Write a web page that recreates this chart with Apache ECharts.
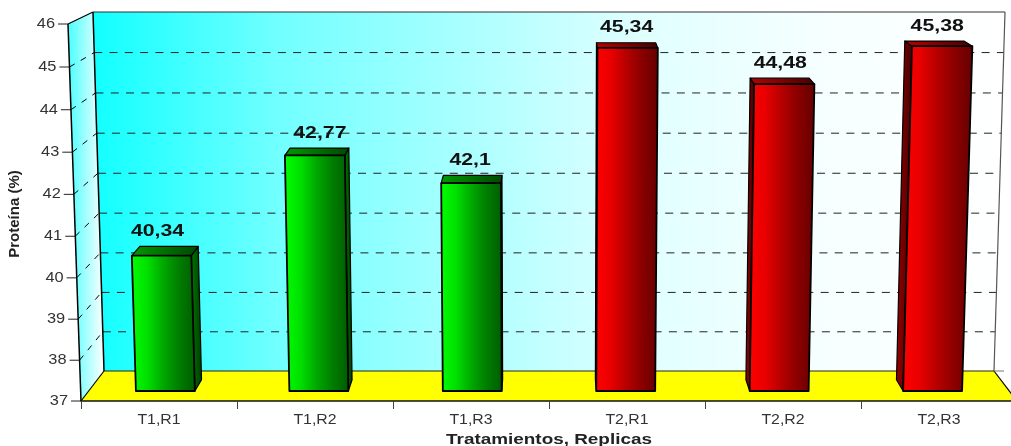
<!DOCTYPE html>
<html>
<head>
<meta charset="utf-8">
<style>html,body{margin:0;padding:0;background:#fff}#chart{width:1011px;height:446px}</style>
<script src="https://cdn.jsdelivr.net/npm/echarts@6/dist/echarts.min.js"></script>
</head>
<body>
<div id="chart"></div>
<script>
// Protein content per treatment and replicate
const categories = ['T1,R1', 'T1,R2', 'T1,R3', 'T2,R1', 'T2,R2', 'T2,R3'];
const protein = [40.34, 42.77, 42.1, 45.34, 44.48, 45.38];
const treatment = [0, 0, 0, 1, 1, 1];
const yTicks = [37, 38, 39, 40, 41, 42, 43, 44, 45, 46];
const xTitle = 'Tratamientos, Replicas';
const yTitle = 'Proteína (%)';

// Box perspective: how the floor and the walls shrink from the front plane (d=0) to the back wall (d=1)
const Y_MIN = 37, Y_MAX = 46;
const BOTTOM_RISE = 30, TOP_RISE = 12;       // upward shift of the back plane at floor / ceiling level
const BOTTOM_INSET = 23, TOP_INSET = 12;     // sideways inset of the back plane
const FRONT_FLARE = 13;                      // front plane widening towards the ceiling
const BEND_FRONT = 0.14, BEND_BACK = 0.085;  // vertical foreshortening
const BAR_FRONT = 1 / 3, BAR_BACK = 0.71, BAR_HALF = 0.192;
const LABEL_LIFT = 15;
const labelNudge = [-4, 5, -1, -1, -4, -5];

const palettes = [
  { face: ['#00ff00', '#00e000', '#00a800', '#007c00', '#005c00'], top: ['#009a00', '#004800'], side: ['#007800', '#003c00'] },
  { face: ['#ff0000', '#e80000', '#b40000', '#880000', '#640000'], top: ['#b80000', '#480000'], side: ['#980000', '#480000'] }
];

function stops(list) {
  return list.map((c, i) => ({ offset: i / (list.length - 1), color: c }));
}
function hGrad(list) {
  return { type: 'linear', x: 0, y: 0, x2: 1, y2: 0, colorStops: stops(list) };
}

// Maps category position u (0..n), value v and depth d through the chart's own axes
function projector(api) {
  const catW = api.size([1, 0])[0];
  const x0 = api.coord([0, Y_MIN])[0] - catW / 2;
  const span = catW * categories.length;
  return function (u, v, d) {
    const t = (v - Y_MIN) / (Y_MAX - Y_MIN);
    const delta = v - Y_MIN;
    const bend = (BEND_FRONT + (BEND_BACK - BEND_FRONT) * d) * delta * (Y_MAX - Y_MIN - delta);
    const rise = BOTTOM_RISE + (TOP_RISE - BOTTOM_RISE) * t;
    const inset = BOTTOM_INSET + (TOP_INSET - BOTTOM_INSET) * t;
    const flare = FRONT_FLARE * t;
    const left = x0 - flare + (flare + inset) * d;
    const right = x0 + span + flare - (flare + inset) * d;
    return [left + (right - left) * u / categories.length,
            api.coord([0, v])[1] + bend - rise * d];
  };
}

function stretched(text, x, y, size, scale, weight, color, rotation, align) {
  return {
    type: 'text', x: x, y: y, scaleX: scale, rotation: rotation || 0,
    style: {
      text: text, x: 0, y: 0, align: align || 'center', verticalAlign: 'middle',
      fontFamily: '"Liberation Sans", Arial, sans-serif',
      fontSize: size, fontWeight: weight, fill: color
    }
  };
}
function poly(points, fill, stroke, w) {
  return { type: 'polygon', shape: { points: points }, style: { fill: fill, stroke: stroke || null, lineWidth: w || 0, lineJoin: 'round' } };
}
function seg(a, b, stroke, w, dash) {
  return { type: 'line', shape: { x1: a[0], y1: a[1], x2: b[0], y2: b[1] }, style: { stroke: stroke, lineWidth: w, lineDash: dash || null } };
}

// Walls, floor, gridlines, value axis and text of the box
function renderFrame(params, api) {
  const p = projector(api);
  const n = categories.length;
  const kids = [];
  kids.push(poly([p(0, Y_MAX, 1), p(n, Y_MAX, 1), p(n, Y_MIN, 1), p(0, Y_MIN, 1)],
    hGrad(['#12ffff', '#70ffff', '#a8ffff', '#e0ffff', '#f6ffff', '#ffffff'])));
  kids.push(poly([p(0, Y_MAX, 0), p(0, Y_MAX, 1), p(0, Y_MIN, 1), p(0, Y_MIN, 0)],
    hGrad(['#48ffff', '#ffffff'])));
  kids.push(poly([p(0, Y_MIN, 0), p(n, Y_MIN, 0), p(n, Y_MIN, 1), p(0, Y_MIN, 1)], '#ffff00'));

  yTicks.forEach(v => {
    if (v > Y_MIN && v < Y_MAX) {
      kids.push(seg(p(0, v, 1), p(n, v, 1), '#222', 1, [8, 7.3]));
      kids.push(seg(p(0, v, 0), p(0, v, 1), '#000', 1, [6, 7]));
    }
    const f = p(0, v, 0);
    kids.push(seg([f[0] - 10, f[1]], f, '#222', 1));
    kids.push(stretched(String(v), f[0] - 13, f[1], 14, 1.17, 'normal', '#333', 0, 'right'));
  });

  kids.push(seg(p(0, Y_MAX, 1), p(n, Y_MAX, 1), '#333', 1.2));
  kids.push(seg(p(n, Y_MAX, 1), p(n, Y_MIN, 1), '#555', 1.2));
  kids.push(seg(p(0, Y_MAX, 1), p(0, Y_MIN, 1), '#000', 1.5));
  kids.push(seg(p(0, Y_MAX, 0), p(0, Y_MIN, 0), '#000', 1.5));
  kids.push(seg(p(0, Y_MAX, 0), p(0, Y_MAX, 1), '#000', 1.2));
  kids.push(seg(p(0, Y_MIN, 0), p(0, Y_MIN, 1), '#000', 1.2));
  kids.push(seg(p(n, Y_MIN, 0), p(n, Y_MIN, 1), '#000', 1.2));
  kids.push(seg(p(0, Y_MIN, 1), p(n, Y_MIN, 1), '#222', 1.2));
  const corner = p(n, Y_MIN, 1);
  kids.push(seg(corner, [corner[0] + 10, corner[1]], '#777', 1));

  categories.forEach((c, i) => {
    const x = api.coord([i, Y_MIN])[0];
    kids.push(stretched(c, x, api.coord([i, Y_MIN])[1] + 19, 14, 1.13, 'normal', '#333'));
  });
  const mid = p(n / 2, Y_MIN, 0);
  kids.push(stretched(xTitle, mid[0], mid[1] + 39, 15, 1.26, 'bold', '#222'));
  kids.push(stretched(yTitle, 15, 214, 15, 1.0, 'bold', '#222', Math.PI / 2));
  return { type: 'group', children: kids };
}

// One prism per replicate, standing on the floor between the front plane and the back wall
function renderBar(params, api) {
  const p = projector(api);
  const i = api.value(0), v = api.value(1);
  const pal = palettes[treatment[i]];
  const l = i + 0.5 - BAR_HALF, r = i + 0.5 + BAR_HALF;
  const kids = [];
  const sideU = i + 0.5 < categories.length / 2 ? r : l;
  kids.push(poly([p(sideU, v, BAR_FRONT), p(sideU, v, BAR_BACK), p(sideU, Y_MIN, BAR_BACK), p(sideU, Y_MIN, BAR_FRONT)],
    hGrad(pal.side), '#000', 1.2));
  kids.push(poly([p(l, v, BAR_FRONT), p(r, v, BAR_FRONT), p(r, v, BAR_BACK), p(l, v, BAR_BACK)],
    hGrad(pal.top), '#000', 1.2));
  kids.push(poly([p(l, v, BAR_FRONT), p(r, v, BAR_FRONT), p(r, Y_MIN, BAR_FRONT), p(l, Y_MIN, BAR_FRONT)],
    hGrad(pal.face), '#000', 1.8));
  const top = p(i + 0.5, v, BAR_BACK);
  const front = p(i + 0.5, v, BAR_FRONT);
  kids.push(stretched(String(v).replace('.', ','), front[0] + labelNudge[i], top[1] - LABEL_LIFT, 17, 1.25, 'bold', '#111'));
  return { type: 'group', children: kids };
}

const chart = echarts.init(document.getElementById('chart'), null, { renderer: 'canvas' });
chart.setOption({
  animation: false,
  backgroundColor: '#ffffff',
  grid: { left: 81, width: 936, top: 24, height: 377, outerBoundsMode: 'none', containLabel: false },
  xAxis: {
    type: 'category', data: categories, boundaryGap: true,
    axisLine: { show: true, lineStyle: { color: '#111', width: 1.5 } },
    axisTick: { show: true, alignWithLabel: false, length: 8, lineStyle: { color: '#444', width: 1 } },
    axisLabel: { show: false }, splitLine: { show: false }, z: 5
  },
  yAxis: { type: 'value', min: Y_MIN, max: Y_MAX, interval: 1, show: false },
  series: [
    { type: 'custom', name: 'frame', silent: true, z: 1, data: [[0, Y_MIN]], encode: { x: 0, y: 1 }, renderItem: renderFrame },
    { type: 'custom', name: 'Proteína', silent: true, z: 3, data: categories.map((c, i) => [i, protein[i]]), encode: { x: 0, y: 1 }, renderItem: renderBar }
  ]
});
</script>
</body>
</html>
